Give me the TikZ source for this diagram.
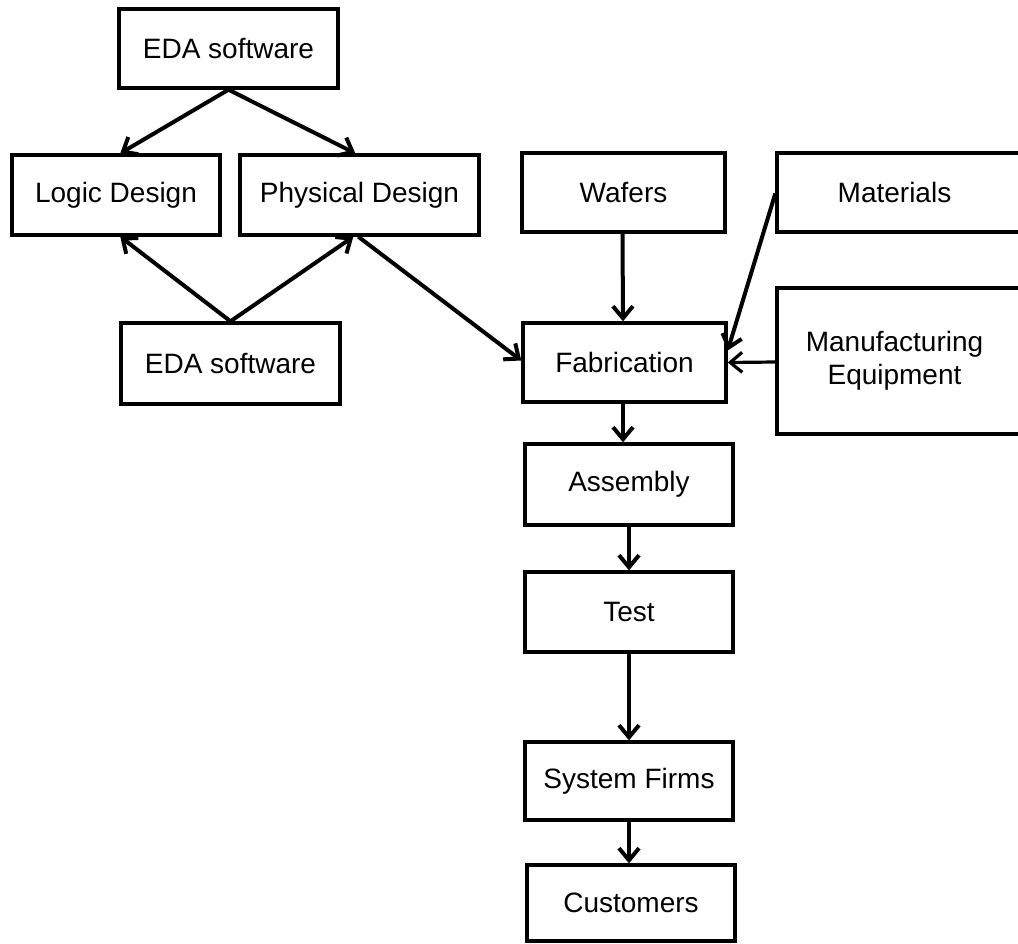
\documentclass[tikz,border=0pt]{standalone}
\usepackage{fontspec}
\setmainfont{Liberation Sans}
\usetikzlibrary{arrows.meta}
\begin{document}
\begin{tikzpicture}[x=1pt,y=-1pt,
  box/.style={draw,line width=3.4pt,inner sep=0pt,align=center,
    font=\fontsize{28}{33}\selectfont},
  conn/.style={line width=4pt,-{Straight Barb[length=12pt,width=20pt]}}]
\clip (0,0) rectangle (1018,943);
\fill[white] (0,0) rectangle (1018,943);
\node[box,minimum width=219pt,minimum height=79pt] (eda1) at (228.5,48.5) {EDA software};
\node[box,minimum width=208pt,minimum height=80pt] (logic) at (116,195) {Logic Design};
\node[box,minimum width=239pt,minimum height=80pt] (phys) at (359.5,195) {Physical Design};
\node[box,minimum width=219pt,minimum height=81pt] (eda2) at (230.5,363.5) {EDA software};
\node[box,minimum width=203pt,minimum height=79pt] (wafers) at (623.5,192.5) {Wafers};
\node[box,minimum width=243pt,minimum height=79pt] (mat) at (898.5,192.5) {Materials\kern8pt};
\node[box,minimum width=203pt,minimum height=79pt] (fab) at (624.5,362.5) {Fabrication};
\node[box,minimum width=243pt,minimum height=146pt] (mfg) at (898.5,361) {Manufacturing\kern8pt\\Equipment\kern8pt};
\node[box,minimum width=208pt,minimum height=81pt] (asm) at (629,484.5) {Assembly};
\node[box,minimum width=208pt,minimum height=80pt] (test) at (629,612) {Test};
\node[box,minimum width=208pt,minimum height=78pt] (sys) at (629,781) {System Firms};
\node[box,minimum width=208pt,minimum height=76pt] (cust) at (631,903) {Customers};

\draw[conn] (eda1.south) -- ([xshift=110pt]logic.north west);
\draw[conn] (eda1.south) -- ([xshift=117pt]phys.north west);
\draw[conn] (eda2.north) -- ([xshift=110pt]logic.south west);
\draw[conn] (eda2.north) -- ([xshift=115pt]phys.south west);
\draw[conn] ([xshift=120pt]phys.south west) -- ([yshift=2pt]fab.west);
\draw[conn] ([xshift=-1pt]wafers.south) -- ([xshift=-1.5pt]fab.north);
\draw[conn] ([yshift=-1pt]mat.west) -- ([yshift=12pt]fab.east);
\draw[conn,line width=3.2pt] ([yshift=-1pt]mfg.west) -- ([yshift=0pt]fab.east);
\draw[conn] ([xshift=-1.5pt]fab.south) -- ([xshift=-6pt]asm.north);
\draw[conn] (asm.south) -- (test.north);
\draw[conn] (test.south) -- (sys.north);
\draw[conn] (sys.south) -- ([xshift=-2pt]cust.north);
\end{tikzpicture}
\end{document}
